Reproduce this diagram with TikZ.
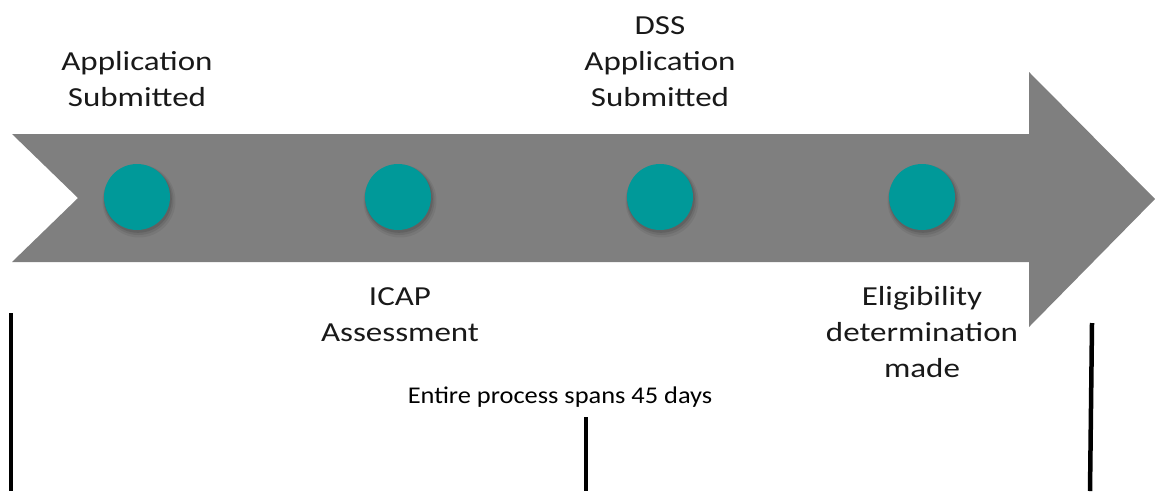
\documentclass[tikz,border=0pt]{standalone}
\usepackage{fontspec}
\newfontfamily\lblfont{Carlito}[FakeStretch=1.2]
\newfontfamily\botfont{Carlito}[FakeStretch=1.1]
\definecolor{bargray}{RGB}{127,127,127}
\definecolor{dotteal}{RGB}{0,153,153}
\begin{document}
\begin{tikzpicture}[x=1pt,y=-1pt,
  lbl/.style={align=center,inner sep=0pt,anchor=base,font=\lblfont\fontsize{27.5}{36}\selectfont,text=black!90},
  dot/.style={circle,fill=dotteal,minimum size=66pt,inner sep=0pt},
  tick/.style={line width=4.5pt,black}]
\useasboundingbox (0,0) rectangle (1155,491);
% arrow band
\fill[bargray] (12,134) -- (1029,134) -- (1029,72) -- (1155,199) -- (1029,327) -- (1029,262) -- (12,262) -- (78,198) -- cycle;
% dots with soft shadow
\foreach \n/\x in {a/137,b/398,c/660,d/922}{
  \fill[black,opacity=0.06] (\x+2,201) circle (36.5);
  \fill[black,opacity=0.08] (\x+1.5,200) circle (35);
  \fill[black,opacity=0.10] (\x+1,199) circle (33.8);
  \node[dot] (\n) at (\x,197) {};
}
% labels (base = baseline of the last line)
\node[lbl] (la) at (137,106) {Application\\Submitted};
\node[lbl] (lc) at (660,106) {DSS\\Application\\Submitted};
\node[lbl] (lb) at (400,341) {ICAP\\Assessment};
\node[lbl] (ld) at (922,377) {Eligibility\\determination\\made};
\node[inner sep=0pt,anchor=base,font=\botfont\fontsize{24}{29}\selectfont] (span) at (560,403) {Entire process spans 45 days};
% ticks
\coordinate (t1a) at (11,313); \coordinate (t1b) at (11,491);
\coordinate (t2a) at (586,417); \coordinate (t2b) at (586,491);
\coordinate (t3a) at (1092,323); \coordinate (t3b) at (1090,491);
\draw[tick] (t1a) -- (t1b);
\draw[tick] (t2a) -- (t2b);
\draw[tick] (t3a) -- (t3b);
\end{tikzpicture}
\end{document}
